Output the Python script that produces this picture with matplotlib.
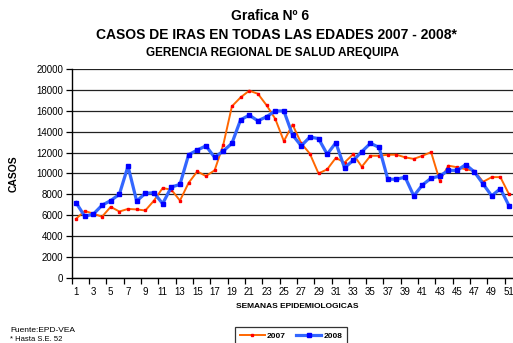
import matplotlib.pyplot as plt

plt.rcParams['font.family'] = ['Liberation Sans', 'DejaVu Sans']

# Casos de IRAS por semana epidemiologica
semanas = list(range(1, 52))
casos_2007 = [5650, 6400, 6150, 5850, 6800, 6350, 6600, 6550, 6450, 7400,
              8600, 8450, 7400, 9100, 10200, 9750, 10300, 12750, 16450, 17300,
              17950, 17650, 16550, 15250, 13100, 14700, 12900, 11900, 10000, 10400,
              11500, 11050, 11850, 10650, 11700, 11700, 11800, 11800, 11550, 11400,
              11700, 12050, 9300, 10750, 10600, 10400, 10250, 9200, 9650, 9650,
              8000]
casos_2008 = [7200, 5900, 6100, 6950, 7400, 8000, 10700, 7350, 8100, 8150,
              7100, 8700, 8950, 11800, 12250, 12650, 11550, 12150, 12900, 15150,
              15600, 15050, 15450, 16000, 16000, 13700, 12650, 13500, 13350, 11850,
              12950, 10550, 11250, 12100, 12900, 12500, 9450, 9450, 9650, 7850,
              8900, 9550, 9750, 10300, 10300, 10850, 10150, 9000, 7850, 8550,
              6900]

fig = plt.figure(figsize=(5.13, 3.43), dpi=100)
ax = fig.add_axes([0.1398, 0.1904, 0.8778, 0.6076])

ax.plot(semanas, casos_2007, color='#FF6600', lw=1.4, marker='s', ms=1.6,
        mfc='#FF0000', mec='#FF0000', label='2007', zorder=3)
ax.plot(semanas, casos_2008, color='#3366FF', lw=2.3, marker='s', ms=3.0,
        mfc='#0000FF', mec='#0000FF', label='2008', zorder=4)

ax.set_xlim(0.5, 52.5)
ax.set_ylim(0, 20000)
ax.set_yticks(range(0, 20001, 2000))
ax.yaxis.grid(True, color='#222222', lw=0.9)
ax.set_axisbelow(True)

# marcas entre categorias cada dos semanas, etiquetas en semanas impares
ax.set_xticks([0.5 + 2 * k for k in range(27)])
ax.set_xticklabels([])
ax.set_xticks(range(1, 52, 2), minor=True)
ax.set_xticklabels([str(s) for s in range(1, 52, 2)], minor=True, fontsize=7)
ax.tick_params(axis='x', which='major', length=4, width=0.9, direction='out')
ax.tick_params(axis='x', which='minor', length=0, pad=7)
ax.tick_params(axis='y', length=4, width=0.9, labelsize=7, pad=2)

for s in ['top', 'right']:
    ax.spines[s].set_visible(False)
for s in ['left', 'bottom']:
    ax.spines[s].set_color('black')
    ax.spines[s].set_linewidth(1.0)

ax.set_ylabel('CASOS', fontsize=7.5, fontweight='bold')
ax.yaxis.set_label_coords(-0.118, 0.5)
ax.set_xlabel('SEMANAS EPIDEMIOLOGICAS', fontsize=6, fontweight='bold', labelpad=4)

fig.text(270 / 513, 1 - 16 / 343, 'Grafica Nº 6', ha='center', va='center',
         fontsize=10, fontweight='bold')
fig.text(276 / 513, 1 - 35 / 343, 'CASOS DE IRAS EN TODAS LAS EDADES 2007 - 2008*',
         ha='center', va='center', fontsize=10, fontweight='bold')
fig.text(272 / 513, 1 - 53 / 343, 'GERENCIA REGIONAL DE SALUD AREQUIPA',
         ha='center', va='center', fontsize=8.5, fontweight='bold')

fig.text(10 / 513, 1 - 331 / 343, 'Fuente:EPD-VEA', ha='left', va='center', fontsize=6)
fig.text(10 / 513, 1 - 339.5 / 343, '* Hasta S.E. 52', ha='left', va='center',
         fontsize=5.5)

leg = ax.legend(loc='center', bbox_to_anchor=(291 / 513, 1 - 336 / 343),
                bbox_transform=fig.transFigure, ncol=2, frameon=True,
                fancybox=False, edgecolor='black',
                prop={'weight': 'bold', 'size': 6}, handlelength=3,
                columnspacing=1.2, borderpad=0.6, handletextpad=0.3)
leg.get_frame().set_linewidth(0.9)

fig.savefig('out.png', dpi=100)
